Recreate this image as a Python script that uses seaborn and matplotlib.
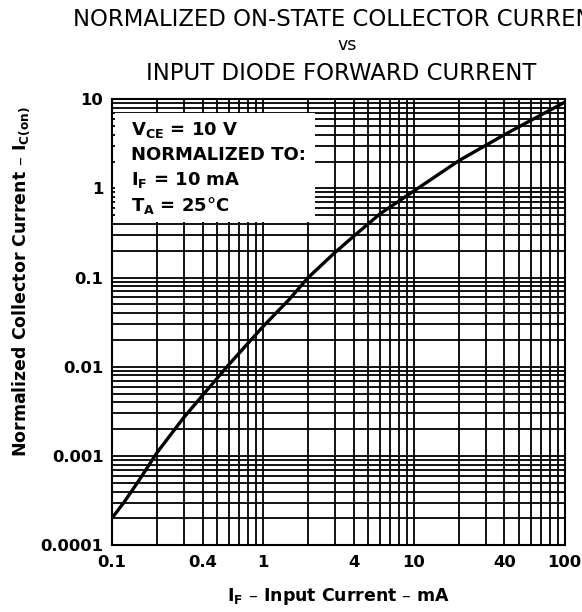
import numpy as np
import pandas as pd
import seaborn as sns
import matplotlib.pyplot as plt
from matplotlib.patches import Rectangle
from matplotlib.ticker import FixedLocator, FixedFormatter, LogLocator, NullFormatter

# curve
input_current_ma = [0.1, 0.12, 0.15, 0.2, 0.3, 0.4, 0.6, 1, 1.5, 2, 3, 4, 6, 10, 20, 40, 60, 100]
norm_collector = [0.0002, 0.0003, 0.00052, 0.0011, 0.0027, 0.0048, 0.0107, 0.028, 0.057,
                  0.1, 0.19, 0.29, 0.52, 0.93, 2.05, 4.0, 5.8, 9.2]

x_ticks = [0.1, 0.4, 1, 4, 10, 40, 100]
x_tick_labels = ["0.1", "0.4", "1", "4", "10", "40", "100"]
y_ticks = [0.0001, 0.001, 0.01, 0.1, 1, 10]
y_tick_labels = ["0.0001", "0.001", "0.01", "0.1", "1", "10"]

title_lines = ["NORMALIZED ON-STATE COLLECTOR CURRENT", "vs", "INPUT DIODE FORWARD CURRENT"]
note_lines = [r"$\mathbf{V_{CE}}$ = 10 V", "NORMALIZED TO:",
              r"$\mathbf{I_F}$ = 10 mA", r"$\mathbf{T_A}$ = 25°C"]

sns.set_style("white")
plt.rcParams['font.family'] = ['DejaVu Sans']
plt.rcParams['mathtext.fontset'] = 'dejavusans'
for key in ['text.color', 'axes.labelcolor', 'xtick.color', 'ytick.color']:
    plt.rcParams[key] = 'black'

df = pd.DataFrame({'if_ma': input_current_ma, 'ic': norm_collector})

fig = plt.figure(figsize=(5.82, 6.12), dpi=100)
ax = fig.add_axes([0.192, 0.109, 0.778, 0.729])

sns.lineplot(data=df, x='if_ma', y='ic', color='black', linewidth=2.4, ax=ax, zorder=3)

ax.set_xscale('log')
ax.set_yscale('log')
ax.set_xlim(0.1, 100)
ax.set_ylim(0.0001, 10)

ax.xaxis.set_major_locator(FixedLocator(x_ticks))
ax.xaxis.set_major_formatter(FixedFormatter(x_tick_labels))
ax.xaxis.set_minor_locator(LogLocator(base=10, subs=np.arange(1, 10)))
ax.xaxis.set_minor_formatter(NullFormatter())
ax.yaxis.set_major_locator(FixedLocator(y_ticks))
ax.yaxis.set_major_formatter(FixedFormatter(y_tick_labels))
ax.yaxis.set_minor_locator(LogLocator(base=10, subs=np.arange(1, 10)))
ax.yaxis.set_minor_formatter(NullFormatter())

ax.grid(True, which='both', color='black', linewidth=1.3)
ax.tick_params(which='both', length=0, labelsize=11.8)
ax.tick_params(axis='x', pad=7)
ax.tick_params(axis='y', pad=6)
for lab in ax.get_xticklabels() + ax.get_yticklabels():
    lab.set_fontweight('bold')
for sp in ax.spines.values():
    sp.set_color('black')
    sp.set_linewidth(1.5)

ax.set_xlabel(r"$\mathbf{I_F}$ – Input Current – mA", fontsize=12.5, fontweight='bold')
ax.xaxis.label.set_va('center')
ax.xaxis.set_label_coords(0.5, -0.114)
ax.set_ylabel(r"Normalized Collector Current – $\mathbf{I_{C(on)}}$", fontsize=12.5,
              fontweight='bold')
ax.yaxis.label.set_va('center')
ax.yaxis.set_label_coords(-0.20, 0.59)

# white note panel in the upper left corner
ax.add_patch(Rectangle((0.008, 0.724), 0.44, 0.245, transform=ax.transAxes,
                       facecolor='white', edgecolor='none', zorder=2))
for i, line in enumerate(note_lines):
    ax.text(0.042, 0.930 - i * 0.056, line, transform=ax.transAxes, ha='left', va='center',
            fontsize=13, fontweight='bold', zorder=4)

fig.text(73 / 582, 1 - 19 / 612, title_lines[0], ha='left', va='center', fontsize=16.4)
fig.text(347 / 582, 1 - 45 / 612, title_lines[1], ha='center', va='center', fontsize=12.5)
fig.text(341 / 582, 1 - 73 / 612, title_lines[2], ha='center', va='center', fontsize=16.4)

fig.savefig("out.png", dpi=100)
